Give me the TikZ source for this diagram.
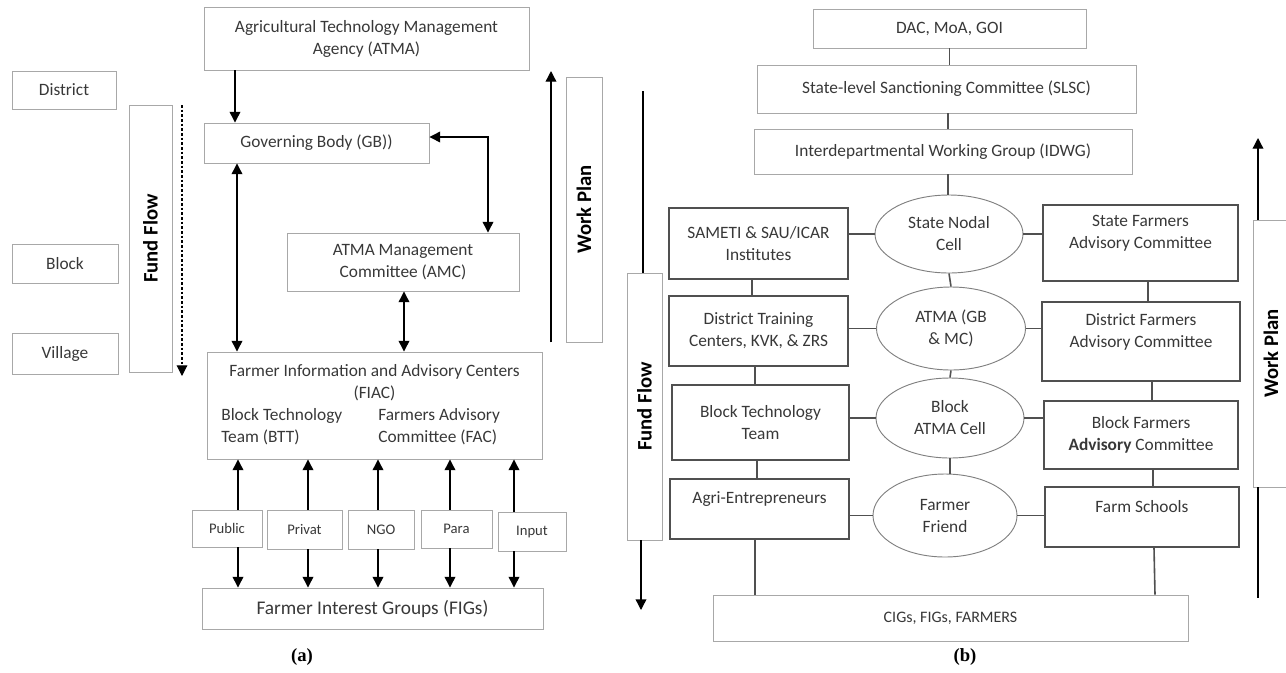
\documentclass[tikz,border=0pt]{standalone}
\usepackage{fontspec}
\setmainfont{Carlito}
\newfontfamily\capfont{Liberation Serif}
\usetikzlibrary{arrows.meta, shapes.geometric}
\definecolor{lysgraa}{HTML}{A8A8A8}
\definecolor{morkgraa}{HTML}{505050}
\definecolor{tekst}{HTML}{383838}

\begin{document}
\begin{tikzpicture}[
    x = 0.75pt, y = -0.75pt,
    wh/.style 2 args = {minimum width=#1*0.75pt, minimum height=#2*0.75pt},
    boks/.style = {rectangle, draw=lysgraa, line width=0.7pt, inner sep=0pt, align=center, text=tekst},
    tykkboks/.style = {rectangle, draw=morkgraa, line width=1.3pt, inner sep=0pt, align=center, text=tekst},
    celle/.style = {ellipse, draw=gray, line width=0.7pt, inner sep=0pt, align=center, text=tekst},
    smaa/.style = {boks, font=\fontsize{11}{13}\selectfont},
    flyt/.style = {boks, text=black, font=\fontsize{15.5}{18}\selectfont\bfseries},
    pil/.style = {black, line width=1pt, -{Triangle[width=8pt,length=8pt]}},
    dpil/.style = {pil, {Triangle[width=8pt,length=8pt]}-{Triangle[width=8pt,length=8pt]}},
    strek/.style = {morkgraa, line width=1.2pt},
    font = \fontsize{13}{16.5}\selectfont
    ]
  \useasboundingbox (0,0) rectangle (1286,672);

  % (a)
  \node[boks, wh={325}{63}] (atma) at (366.5,38.5) {Agricultural Technology Management\\Agency (ATMA)};
  \node[boks, wh={104}{38}] (district) at (64,90) {District};
  \node[boks, wh={106}{39}] (block) at (65,263.5) {Block};
  \node[boks, wh={106}{41}] (village) at (65,353.5) {Village};
  \node[flyt, rotate=90, wh={267}{43}] (fundA) at (150.5,238.5) {Fund Flow};
  \node[boks, wh={225}{40}] (gb) at (316.5,143) {Governing Body (GB))};
  \node[boks, wh={232}{58}] (amc) at (403,262) {ATMA Management\\Committee (AMC)};
  \node[boks, wh={335}{107}] (fiac) at (374.5,405.5) {%
    \begin{tabular}{@{}l@{\hspace{27pt}}l@{}}
      \multicolumn{2}{c}{Farmer Information and Advisory Centers}\\
      \multicolumn{2}{c}{(FIAC)}\\
      Block Technology & Farmers Advisory\\
      Team (BTT) & Committee (FAC)
    \end{tabular}};
  \node[flyt, rotate=90, wh={265}{36}] (workA) at (584,209.5) {Work Plan};

  \node[smaa, wh={70}{37}] (public) at (227,528.5) {Public};
  \node[smaa, wh={75}{39}] (privat) at (304.5,529.5) {Privat};
  \node[smaa, wh={66}{39}] (ngo) at (381,529.5) {NGO};
  \node[smaa, wh={71}{38}] (para) at (456.5,529) {Para};
  \node[smaa, wh={68}{39}] (input) at (532,531.5) {Input};
  \node[boks, wh={341}{41}, font=\fontsize{14.5}{17}\selectfont] (figs) at (372.5,608.5) {Farmer Interest Groups (FIGs)};
  \node[font=\capfont\bfseries\fontsize{14}{16}\selectfont] (capA) at (302,657) {(a)};

  \coordinate (dashTop) at (182,105);
  \coordinate (dashEnd) at (182,376);
  \coordinate (workAtop) at (551,71);

  \draw[pil] (atma.south -| 235,0) -- (gb.north -| 235,0);
  \draw[dpil] (gb.south -| 237,0) -- (fiac.north -| 237,0);
  \draw[dpil] (gb.east |- 0,137) -| (amc.north -| 488,0);
  \draw[dpil] (amc.south -| 404,0) -- (fiac.north -| 404,0);
  \draw[pil, line width=0.8pt, dash pattern=on 2pt off 1.5pt] (dashTop) -- (dashEnd);
  \draw[pil] (workA.west -| workAtop) -- (workAtop);

  \foreach \nm/\x in {public/238, privat/308, ngo/378, para/450, input/514} {
    \draw[pil] (\nm.north -| \x,0) -- (fiac.south -| \x,0);
    \draw[pil] (\nm.south -| \x,0) -- (figs.north -| \x,0);
  }

  % (b)
  \node[boks, wh={273}{39}] (dac) at (949.5,28.5) {DAC, MoA, GOI};
  \node[boks, wh={379}{48}] (slsc) at (946.5,89) {State-level Sanctioning Committee (SLSC)};
  \node[boks, wh={378}{45}] (idwg) at (943,151.5) {Interdepartmental Working Group (IDWG)};

  \node[tykkboks, wh={179}{71}] (sameti) at (758.5,243.5) {SAMETI \& SAU/ICAR\\Institutes};
  \node[tykkboks, wh={179}{70}] (dtc) at (758.5,331) {District Training\\Centers, KVK, \& ZRS};
  \node[tykkboks, wh={177}{75}] (btt) at (760.5,422.5) {Block Technology\\Team};
  \node[tykkboks, wh={179}{60}] (agri) at (759.5,509) {Agri-Entrepreneurs\\\mbox{}};

  \node[celle, wh={148}{78}] (snc) at (949,234) {State Nodal\\Cell};
  \node[celle, wh={149}{83}] (atmagb) at (951,328.5) {ATMA (GB\\\& MC)};
  \node[celle, wh={148}{80}] (bac) at (950,418) {Block\\ATMA Cell};
  \node[celle, wh={144}{83}] (ff) at (945,515.5) {Farmer\\Friend};

  \node[tykkboks, wh={195}{76}] (sfac) at (1140.5,243) {State Farmers\\Advisory Committee\\\mbox{}};
  \node[tykkboks, wh={198}{79}] (dfac) at (1141,341.5) {District Farmers\\Advisory Committee\\\mbox{}};
  \node[tykkboks, wh={194}{68}] (bfac) at (1141,435) {Block Farmers\\\textbf{Advisory} Committee};
  \node[tykkboks, wh={194}{60}] (fs) at (1142,517) {Farm Schools\\\mbox{}};

  \node[boks, wh={475}{46}, font=\fontsize{12}{15}\selectfont] (cigs) at (950.5,618) {CIGs, FIGs, FARMERS};
  \node[font=\capfont\bfseries\fontsize{14}{16}\selectfont] (capB) at (965,657) {(b)};

  \node[flyt, rotate=90, wh={267}{35}] (fundB) at (644.5,406.5) {Fund Flow};
  \node[flyt, rotate=90, wh={267}{36}] (workB) at (1271,353.5) {Work Plan};

  \coordinate (fundBtop) at (643,91);
  \coordinate (fundBend) at (641,610);
  \coordinate (workBtop) at (1258,138);
  \coordinate (workBend) at (1258,598);

  \draw[black, line width=1pt] (fundBtop) -- (fundBtop |- fundB.east);
  \draw[pil] (fundB.west -| fundBend) -- (fundBend);
  \draw[pil] (workB.east -| workBtop) -- (workBtop);
  \draw[black, line width=1pt] (workB.west -| workBend) -- (workBend);

  \draw[strek]
  (dac.south) edge (dac.south |- slsc.north)
  (slsc.south -| 948,0) edge (idwg.north -| 948,0)
  (idwg.south -| 948,0) edge (snc.north -| 948,0)

  (snc.south) edge (atmagb.north)
  (atmagb.south) edge (bac.north)
  (bac.south) edge (bac.south |- ff.north)

  (sameti.east |- snc.west) edge (snc.west)
  (dtc.east |- atmagb.west) edge (atmagb.west)
  (btt.east |- bac.west) edge (bac.west)
  (agri.east |- ff.west) edge (ff.west)

  (snc.east) edge (sfac.west |- snc.east)
  (atmagb.east) edge (dfac.west |- atmagb.east)
  (bac.east) edge (bfac.west |- bac.east)
  (ff.east) edge (fs.west |- ff.east)

  (sameti.south -| 752,0) edge (dtc.north -| 752,0)
  (dtc.south -| 755,0) edge (btt.north -| 755,0)
  (btt.south -| 757,0) edge (agri.north -| 757,0)
  (agri.south -| 755,0) edge (cigs.north -| 755,0)

  (sfac.south -| 1148,0) edge (dfac.north -| 1148,0)
  (dfac.south -| 1152,0) edge (bfac.north -| 1152,0)
  (bfac.south -| 1153,0) edge (fs.north -| 1153,0)
  (fs.south -| 1154,0) edge (cigs.north -| 1155,0);
\end{tikzpicture}
\end{document}
